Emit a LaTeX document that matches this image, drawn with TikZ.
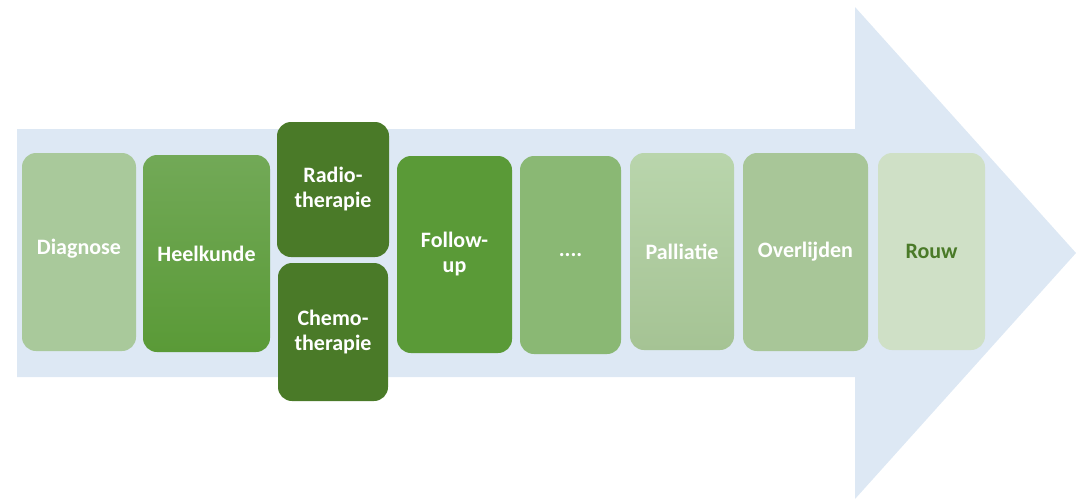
\documentclass[tikz,border=0pt]{standalone}
\usepackage{fontspec}
\setmainfont{Carlito}
\usetikzlibrary{positioning}
\definecolor{arrowblue}{HTML}{DDE8F4}
\definecolor{greenlight}{HTML}{A9C99B}
\definecolor{greendark}{HTML}{4A7A28}
\definecolor{greenmid}{HTML}{5A9A37}
\definecolor{greensurgery}{HTML}{72A957}
\definecolor{greendots}{HTML}{8AB874}
\definecolor{greengrey}{HTML}{A8C698}
\definecolor{greenpale}{HTML}{CFE0C6}
\definecolor{greenpalltop}{HTML}{B9D5AC}
\definecolor{greenpallbot}{HTML}{A5C394}
\tikzset{
  phase/.style={rounded corners=14pt, inner sep=0pt, align=center, text=white,
    font=\bfseries\fontsize{22}{25}\selectfont},
}

\begin{document}
\begin{tikzpicture}[x=1pt, y=-1pt]
    \useasboundingbox (0,0) rectangle (1076,499);
    % the big arrow behind the phases
    \fill [arrowblue] (17,129) -- (855,129) -- (855,7) -- (1076,253) -- (855,499) -- (855,377) -- (17,377) -- cycle;

    \node [phase, fill=greenlight, minimum width=114pt, minimum height=198pt] (diagnose) at (79,252) {\raisebox{10pt}{Diagnose}};
    \node [phase, top color=greensurgery, bottom color=greenmid, minimum width=127pt, minimum height=197pt] (heelkunde) at (206.5,253.5) {Heelkunde};
    \node [phase, fill=greendark, minimum width=112pt, minimum height=135pt] (radio) at (333,189.5) {Radio-\\therapie};
    \node [phase, fill=greendark, minimum width=110pt, minimum height=138pt] (chemo) at (333,332) {Chemo-\\therapie};
    \node [phase, fill=greenmid, minimum width=115pt, minimum height=197pt] (followup) at (454.5,254.5) {Follow-\\up};
    \node [phase, fill=greendots, minimum width=101pt, minimum height=198pt] (dots) at (570.5,255) {....};
    \node [phase, top color=greenpalltop, bottom color=greenpallbot, minimum width=104pt, minimum height=197pt] (palliatie) at (682,251.5) {Palliatie};
    \node [phase, fill=greengrey, minimum width=125pt, minimum height=198pt] (overlijden) at (805.5,252) {Overlijden};
    \node [phase, fill=greenpale, text=greendark, minimum width=107pt, minimum height=197pt] (rouw) at (931.5,251.5) {Rouw};
\end{tikzpicture}
\end{document}
